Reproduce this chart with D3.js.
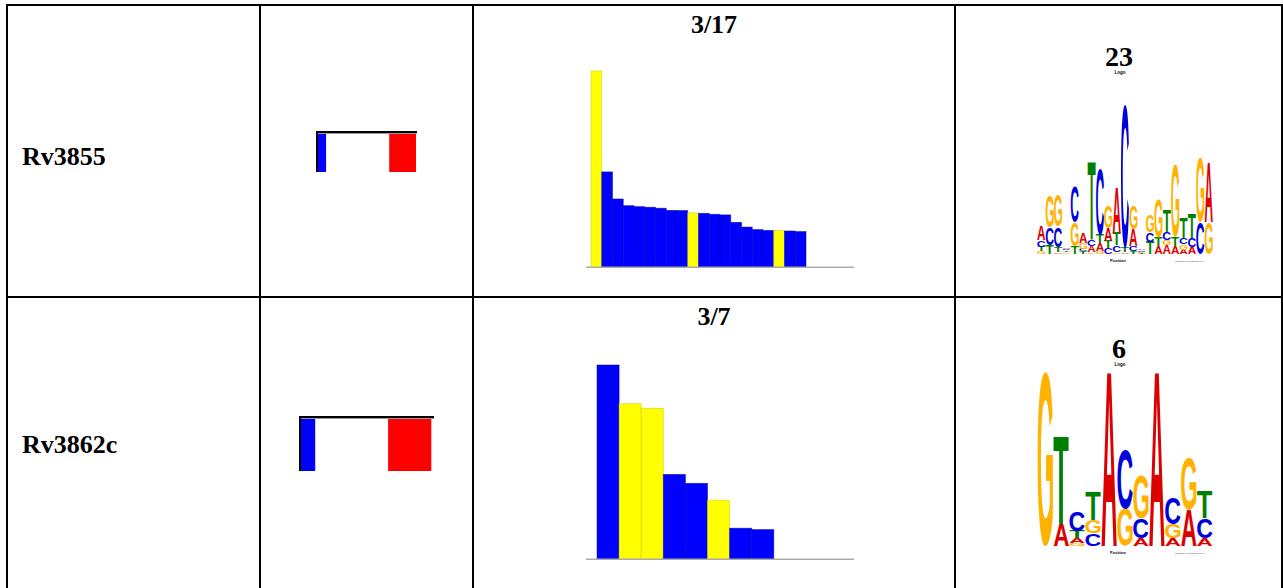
<!DOCTYPE html>
<html><head><meta charset="utf-8">
<script src="https://cdn.jsdelivr.net/npm/d3@7"></script>
<style>html,body{margin:0;padding:0;background:#fff;overflow:hidden}</style>
</head><body>
<svg id="c" width="1283" height="588"></svg>
<script>
// ---------- data ----------
const rowLabels = ["Rv3855", "Rv3862c"];
const ratioLabels = ["3/17", "3/7"];
const logoLabels = ["23", "6"];

// gene diagram spans (relative units 0..100)
const geneBlue = [[2, 10], [1.5, 12]];
const geneRed = [[72.5, 99], [66, 98]];

// bar chart values (relative scores) and highlight flags (Y = yellow, B = blue)
const bars1 = [100, 48.6, 34.8, 31.4, 30.9, 30.6, 30.1, 29.0, 28.9, 27.7, 27.5, 27.0, 26.7, 22.9, 20.5, 19.2, 18.8, 18.7, 18.5, 18.2];
const flags1 = ["Y","B","B","B","B","B","B","B","B","Y","B","B","B","B","B","B","B","Y","B","B"];
const bars2 = [100, 80.1, 77.7, 43.7, 39.1, 30.4, 16.0, 15.3];
const flags2 = ["B","Y","Y","B","B","Y","B","B"];

// sequence logos: columns, letters bottom-up with heights in bits
const logo1 = [
  [["G",.03],["T",.05],["C",.08],["A",.16]],
  [["T",.10],["C",.20],["G",.36]],
  [["A",.02],["T",.06],["C",.23],["G",.36]],
  [["G",.02],["T",.02],["C",.02],["A",.02]],
  [["T",.09],["G",.27],["C",.40]],
  [["T",.03],["C",.03],["G",.07],["A",.11]],
  [["G",.02],["A",.07],["C",.08],["T",.88]],
  [["G",.03],["A",.09],["T",.10],["C",.75]],
  [["C",.07],["T",.08],["A",.14],["G",.25]],
  [["G",.02],["C",.08],["T",.14],["A",.52]],
  [["A",.02],["T",.05],["C",1.63]],
  [["T",.03],["C",.06],["A",.19],["G",.27]],
  [["T",.01],["G",.01],["C",.02],["A",.02]],
  [["T",.14],["C",.11],["G",.19]],
  [["A",.09],["T",.10],["G",.44]],
  [["A",.10],["G",.06],["C",.09],["T",.25]],
  [["A",.09],["T",.10],["G",.82]],
  [["A",.05],["G",.06],["C",.07],["T",.24]],
  [["A",.08],["C",.10],["T",.28]],
  [["C",.36],["G",.74]],
  [["G",.36],["A",.68]]
];
const logo2 = [
  [["G",1.98]],
  [["A",.25],["T",1.0]],
  [["G",.03],["A",.06],["T",.08],["C",.23]],
  [["C",.14],["G",.15],["T",.32]],
  [["A",1.99]],
  [["G",.42],["C",.68]],
  [["A",.09],["C",.22],["G",.50]],
  [["A",1.99]],
  [["A",.09],["G",.16],["C",.30]],
  [["A",.41],["G",.59]],
  [["A",.09],["C",.23],["T",.31]]
];
const letterColors = {A:"#dd0000", C:"#0000dd", G:"#ffb300", T:"#008000"};

// ---------- drawing ----------
const svg = d3.select("#c");
const serif = '"Liberation Serif","Times New Roman",serif';

// table grid
const colX = [7, 260, 473, 955, 1282];
const rowY = [5, 297, 600];
const grid = svg.append("g").attr("stroke", "#000").attr("stroke-width", 2);
colX.forEach(x => grid.append("line").attr("x1", x).attr("x2", x).attr("y1", rowY[0]-1).attr("y2", 600));
rowY.forEach(y => grid.append("line").attr("x1", colX[0]-1).attr("x2", 1290).attr("y1", y).attr("y2", y));

// row labels
const labelY = [165, 453];
rowLabels.forEach((t, i) => svg.append("text").attr("x", 22).attr("y", labelY[i])
  .attr("font-family", serif).attr("font-weight", "bold").attr("font-size", 26).text(t));

// gene diagrams
const geneBox = [{x0:316, x1:417, y0:131, y1:172}, {x0:299, x1:434, y0:416, y1:471}];
geneBox.forEach((b, i) => {
  const g = svg.append("g");
  const x = d3.scaleLinear().domain([0, 100]).range([b.x0, b.x1]);
  g.append("rect").attr("x", x(geneBlue[i][0])).attr("y", b.y0).attr("width", x(geneBlue[i][1]) - x(geneBlue[i][0])).attr("height", b.y1 - b.y0).attr("fill", "#0000ff");
  g.append("rect").attr("x", x(geneRed[i][0])).attr("y", b.y0).attr("width", x(geneRed[i][1]) - x(geneRed[i][0])).attr("height", b.y1 - b.y0).attr("fill", "#ff0000");
  g.append("line").attr("x1", b.x0).attr("x2", b.x1).attr("y1", b.y0 + 1).attr("y2", b.y0 + 1).attr("stroke", "#000").attr("stroke-width", 2);
  g.append("line").attr("x1", b.x0).attr("x2", b.x1).attr("y1", b.y0 + 2.5).attr("y2", b.y0 + 2.5).attr("stroke", "#999").attr("stroke-width", 1);
  g.append("line").attr("x1", b.x0 + 1).attr("x2", b.x0 + 1).attr("y1", b.y0).attr("y2", b.y1).attr("stroke", "#000").attr("stroke-width", 2);
});

// bar charts
const charts = [
  {vals: bars1, flags: flags1, x0: 591, bw: 10.75, base: 267.3, top: 71, titleY: 33},
  {vals: bars2, flags: flags2, x0: 597, bw: 22.1, base: 559.3, top: 365, titleY: 325}
];
charts.forEach((c, i) => {
  svg.append("text").attr("x", 714).attr("y", c.titleY).attr("text-anchor", "middle")
    .attr("font-family", serif).attr("font-weight", "bold").attr("font-size", 26).text(ratioLabels[i]);
  const x = d3.scaleBand().domain(d3.range(c.vals.length)).range([c.x0, c.x0 + c.bw * c.vals.length]).padding(0);
  const y = d3.scaleLinear().domain([0, 100]).range([c.base, c.top]);
  svg.append("g").selectAll("rect").data(c.vals).join("rect")
    .attr("x", (d, j) => x(j)).attr("y", d => y(d))
    .attr("width", x.bandwidth()).attr("height", d => c.base - y(d))
    .attr("fill", (d, j) => c.flags[j] === "Y" ? "#ffff00" : "#0000ff")
    .attr("stroke", (d, j) => c.flags[j] === "Y" ? "#c8c800" : "#0000a0")
    .attr("stroke-opacity", 0.6).attr("stroke-width", 0.8);
  svg.append("line").attr("x1", 586).attr("x2", 854).attr("y1", c.base).attr("y2", c.base)
    .attr("stroke", "#aaa").attr("stroke-width", 1.5);
});

// sequence logos
const ctx = document.createElement("canvas").getContext("2d");
ctx.font = 'bold 100px "Liberation Sans"';
const metrics = {};
["A","C","G","T"].forEach(L => {
  const m = ctx.measureText(L);
  metrics[L] = {l: m.actualBoundingBoxLeft, r: m.actualBoundingBoxRight, a: m.actualBoundingBoxAscent, d: m.actualBoundingBoxDescent};
});
const logos = [
  {cols: logo1, x0: 1037, x1: 1213, base: 254, numY: 66, logoY: 74, posY: 262},
  {cols: logo2, x0: 1037, x1: 1213, base: 546, numY: 358, logoY: 366, posY: 554}
];
logos.forEach((lg, i) => {
  svg.append("text").attr("x", 1119).attr("y", lg.numY).attr("text-anchor", "middle")
    .attr("font-family", serif).attr("font-weight", "bold").attr("font-size", 28).text(logoLabels[i]);
  svg.append("text").attr("x", 1120).attr("y", lg.logoY).attr("text-anchor", "middle")
    .attr("font-family", "Liberation Sans").attr("font-weight", "bold").attr("font-size", 4.5).text("Logo");
  svg.append("text").attr("x", 1118).attr("y", lg.posY).attr("text-anchor", "middle")
    .attr("font-family", "Liberation Sans").attr("font-weight", "bold").attr("font-size", 4).text("Position");
  svg.append("text").attr("x", 1190).attr("y", lg.posY).attr("text-anchor", "middle")
    .attr("font-family", "Liberation Sans").attr("font-size", 2.5).attr("fill", "#333").text("Created by WebLogo 3.7.4");
  const x = d3.scaleBand().domain(d3.range(lg.cols.length)).range([lg.x0, lg.x1]).padding(0.04);
  const y = d3.scaleLinear().domain([0, 2]).range([0, 176]);
  const g = svg.append("g");
  lg.cols.forEach((col, j) => {
    let acc = 0;
    col.forEach(([L, h]) => {
      const hp = y(h);
      const bx = x(j), bw = x.bandwidth();
      const by = lg.base - y(acc) - hp;
      acc += h;
      const m = metrics[L];
      const sx = bw / (m.l + m.r), sy = hp / (m.a + m.d);
      g.append("text").attr("font-family", '"Liberation Sans"').attr("font-weight", "bold")
        .attr("font-size", 100).attr("fill", letterColors[L])
        .attr("transform", `translate(${bx + m.l * sx},${by + m.a * sy}) scale(${sx},${sy})`)
        .text(L);
    });
  });
});
</script>
</body></html>
